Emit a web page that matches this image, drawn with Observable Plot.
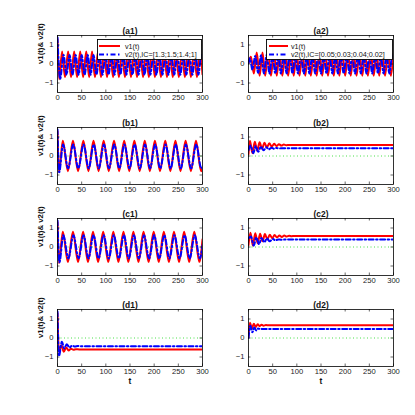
<!DOCTYPE html>
<html><head><meta charset="utf-8">
<script src="https://cdn.jsdelivr.net/npm/d3@7"></script>
<script src="https://cdn.jsdelivr.net/npm/@observablehq/plot@0.6"></script>
<style>
body{margin:0;background:#fff;}
#chart{position:relative;width:415px;height:415px;background:#fff;font-family:"Liberation Sans",Arial,sans-serif;overflow:hidden;}
#chart svg{position:absolute;}
</style></head><body><div id="chart"></div>
<script>
const xTicks=[0,50,100,150,200,250,300];
const yTicks=[-1,0,1];
const panelTitles=["(a1)","(a2)","(b1)","(b2)","(c1)","(c2)","(d1)","(d2)"];
const yLabel="v1(t)& v2(t)";
const xLabel="t";
const seriesNames=["v1(t)","v2(t)"];
const legendA1="v2(t),IC=[1.3;1.5;1.4;1]";
const legendA2="v2(t),IC=[0.05;0.03;0.04;0.02]";

const a1_v1=[[0,1.3],[3.5,-0.8],[9.5,0.66],[15.5,-0.7],[22,0.66],[28,-0.7],[34.5,0.66],[40.5,-0.7],[47,0.66],[53,-0.7],[59.5,0.66],[65.5,-0.7],[71.5,0.66],[77.5,-0.7],[84,0.66],[90,-0.7],[96.5,0.66],[102.5,-0.7],[109,0.66],[115,-0.7],[121,0.66],[127,-0.7],[133.5,0.66],[139.5,-0.7],[146,0.66],[152,-0.7],[158.5,0.66],[164.5,-0.7],[171,0.66],[177,-0.7],[183,0.66],[189,-0.7],[195.5,0.66],[201.5,-0.7],[208,0.66],[214,-0.7],[220.5,0.66],[226.5,-0.7],[232.5,0.66],[238.5,-0.7],[245,0.66],[251,-0.7],[257.5,0.66],[263.5,-0.7],[270,0.66],[276,-0.7],[282.5,0.66],[288.5,-0.7],[294.5,0.66],[300,-0.55]];
const a1_v2=[[0,1.4],[5.5,-0.78],[12.5,0.48],[18.5,-0.56],[25,0.48],[31,-0.56],[37.5,0.48],[43.5,-0.56],[50,0.48],[56,-0.56],[62.5,0.48],[68.5,-0.56],[74.5,0.48],[80.5,-0.56],[87,0.48],[93,-0.56],[99.5,0.48],[105.5,-0.56],[112,0.48],[118,-0.56],[124,0.48],[130,-0.56],[136.5,0.48],[142.5,-0.56],[149,0.48],[155,-0.56],[161.5,0.48],[167.5,-0.56],[174,0.48],[180,-0.56],[186,0.48],[192,-0.56],[198.5,0.48],[204.5,-0.56],[211,0.48],[217,-0.56],[223.5,0.48],[229.5,-0.56],[235.5,0.48],[241.5,-0.56],[248,0.48],[254,-0.56],[260.5,0.48],[266.5,-0.56],[273,0.48],[279,-0.56],[285.5,0.48],[291.5,-0.56],[297.5,0.48],[300,0.3]];

const a2_v1=[[0,0.05],[5,0.38],[11,-0.5],[17,0.6],[23,-0.62],[29,0.6],[34.5,-0.62],[40.5,0.6],[46.5,-0.62],[52.5,0.6],[58.5,-0.62],[64,0.6],[70,-0.62],[76,0.6],[82,-0.62],[88,0.6],[93.5,-0.62],[99.5,0.6],[105.5,-0.62],[111.5,0.6],[117.5,-0.62],[123,0.6],[129,-0.62],[135,0.6],[141,-0.62],[147,0.6],[152.5,-0.62],[158.5,0.6],[164.5,-0.62],[170.5,0.6],[176.5,-0.62],[182,0.6],[188,-0.62],[194,0.6],[200,-0.62],[206,0.6],[211.5,-0.62],[217.5,0.6],[223.5,-0.62],[229.5,0.6],[235.5,-0.62],[241,0.6],[247,-0.62],[253,0.6],[259,-0.62],[265,0.6],[270.5,-0.62],[276.5,0.6],[282.5,-0.62],[288.5,0.6],[294.5,-0.62],[300,0.55]];
const a2_v2=[[0,0.04],[3,0.3],[8,-0.3],[14,0.42],[20,-0.48],[26,0.46],[32,-0.5],[37.5,0.46],[43.5,-0.5],[49.5,0.46],[55.5,-0.5],[61.5,0.46],[67,-0.5],[73,0.46],[79,-0.5],[85,0.46],[91,-0.5],[96.5,0.46],[102.5,-0.5],[108.5,0.46],[114.5,-0.5],[120.5,0.46],[126,-0.5],[132,0.46],[138,-0.5],[144,0.46],[150,-0.5],[155.5,0.46],[161.5,-0.5],[167.5,0.46],[173.5,-0.5],[179.5,0.46],[185,-0.5],[191,0.46],[197,-0.5],[203,0.46],[209,-0.5],[214.5,0.46],[220.5,-0.5],[226.5,0.46],[232.5,-0.5],[238.5,0.46],[244,-0.5],[250,0.46],[256,-0.5],[262,0.46],[268,-0.5],[273.5,0.46],[279.5,-0.5],[285.5,0.46],[291.5,-0.5],[297.5,0.46],[300,0.35]];

const b1_v1=[[0,1.3],[3,-0.85],[11,0.8],[21.5,-0.8],[32,0.8],[42.5,-0.8],[53.5,0.8],[64,-0.8],[74.5,0.8],[85,-0.8],[95.5,0.8],[106,-0.8],[117,0.8],[127.5,-0.8],[138,0.8],[148.5,-0.8],[159,0.8],[170,-0.8],[180.5,0.8],[191,-0.8],[201.5,0.8],[212,-0.8],[223,0.8],[233.5,-0.8],[244,0.8],[254.5,-0.8],[265,0.8],[276,-0.8],[286.5,0.8],[297,-0.8],[300,-0.7]];
const b1_v2=[[0,1.4],[3.5,-0.85],[11.5,0.6],[22,-0.65],[32.5,0.6],[43,-0.65],[54,0.6],[64.5,-0.65],[75,0.6],[85.5,-0.65],[96,0.6],[106.5,-0.65],[117.5,0.6],[128,-0.65],[138.5,0.6],[149,-0.65],[159.5,0.6],[170.5,-0.65],[181,0.6],[191.5,-0.65],[202,0.6],[212.5,-0.65],[223.5,0.6],[234,-0.65],[244.5,0.6],[255,-0.65],[265.5,0.6],[276.5,-0.65],[287,0.6],[297.5,-0.65],[300,-0.6]];

const b2_v1=[[0,0.1],[3,0.8],[8,0.15],[13,0.75],[18,0.28],[23,0.72],[28,0.38],[33,0.7],[38,0.45],[43,0.67],[48,0.5],[53,0.64],[58,0.53],[63,0.62],[68,0.55],[73,0.6],[78,0.57],[85,0.58],[300,0.58]];
const b2_v2=[[0,0.3],[4,0.55],[10,0.15],[15,0.52],[20,0.22],[26,0.5],[31,0.3],[37,0.46],[42,0.35],[48,0.44],[53,0.38],[58,0.42],[64,0.4],[70,0.41],[300,0.41]];

const c1_v1=[[0,1.3],[3,-0.85],[11,0.8],[21.5,-0.78],[32,0.8],[42.5,-0.78],[53,0.8],[63,-0.78],[73.5,0.8],[84,-0.78],[94.5,0.8],[105,-0.78],[115.5,0.8],[126,-0.78],[136.5,0.8],[146.5,-0.78],[157,0.8],[167.5,-0.78],[178,0.8],[188.5,-0.78],[199,0.8],[209.5,-0.78],[220,0.8],[230.5,-0.78],[241,0.8],[251.5,-0.78],[262,0.8],[272.5,-0.78],[283,0.8],[293.5,-0.78],[300,0.4]];
const c1_v2=[[0,1.4],[4,-0.8],[12,0.62],[22.5,-0.6],[33,0.62],[43.5,-0.6],[54,0.62],[64,-0.6],[74.5,0.62],[85,-0.6],[95.5,0.62],[106,-0.6],[116.5,0.62],[127,-0.6],[137.5,0.62],[147.5,-0.6],[158,0.62],[168.5,-0.6],[179,0.62],[189.5,-0.6],[200,0.62],[210.5,-0.6],[221,0.62],[231.5,-0.6],[242,0.62],[252.5,-0.6],[263,0.62],[273.5,-0.6],[284,0.62],[294.5,-0.6],[300,0.1]];

const c2_v1=[[0,0.1],[4,0.75],[9,0.08],[14,0.72],[19,0.2],[24,0.7],[29,0.3],[34,0.68],[39,0.4],[44,0.65],[49,0.46],[54,0.63],[59,0.5],[64,0.61],[69,0.53],[74,0.6],[79,0.55],[84,0.59],[89,0.57],[95,0.58],[300,0.58]];
const c2_v2=[[0,0.45],[5,0.55],[11,0.07],[16,0.5],[22,0.15],[27,0.48],[33,0.25],[38,0.45],[44,0.3],[50,0.42],[56,0.35],[62,0.4],[68,0.38],[75,0.39],[300,0.39]];

const d1_v1=[[0,1.3],[3,-0.75],[8,-0.38],[13,-0.72],[18,-0.5],[23,-0.66],[28,-0.56],[33,-0.62],[38,-0.59],[45,-0.6],[300,-0.6]];
const d1_v2=[[0,1.4],[3,-0.95],[9,-0.2],[14,-0.55],[19,-0.33],[25,-0.5],[30,-0.4],[36,-0.45],[42,-0.42],[50,-0.43],[300,-0.43]];

const d2_v1=[[0,0.05],[3,0.8],[7,0.5],[11,0.75],[15,0.58],[19,0.72],[23,0.62],[27,0.7],[31,0.65],[36,0.68],[42,0.67],[300,0.67]];
const d2_v2=[[0,0.0],[4,0.65],[8,0.3],[12,0.55],[16,0.4],[20,0.5],[25,0.46],[30,0.48],[300,0.48]];

const panelData=[[a1_v1,a1_v2],[a2_v1,a2_v2],[b1_v1,b1_v2],[b2_v1,b2_v2],[c1_v1,c1_v2],[c2_v1,c2_v2],[d1_v1,d1_v2],[d2_v1,d2_v2]];

const FONT='"Liberation Sans",Arial,Helvetica,sans-serif';
const colX=[57,248], rowY=[35,127,218,309], fw=145, fh=57;
const ml=45, mr=10, mt=22, mb=30;
const DASHDOT="5,2.5,1.5,2.5";
const chart=document.getElementById("chart");

panelData.forEach(([v1,v2],i)=>{
  const col=i%2, row=Math.floor(i/2);
  const marks=[
    Plot.ruleY([0],{stroke:"#33dd33",strokeDasharray:"1,2.5",strokeWidth:0.9}),
    Plot.line(v1,{x:d=>d[0],y:d=>d[1],stroke:"#ff0000",strokeWidth:2,curve:"monotone-x",clip:true}),
    Plot.line(v2,{x:d=>d[0],y:d=>d[1],stroke:"#0000ff",strokeWidth:2,strokeDasharray:DASHDOT,curve:"monotone-x",clip:true}),
    Plot.frame({stroke:"black",strokeWidth:0.8}),
    Plot.tickX(xTicks,{x:d=>d,insetTop:fh-2.5,stroke:"black",strokeWidth:0.6}),
    Plot.tickX(xTicks,{x:d=>d,insetBottom:fh-2.5,stroke:"black",strokeWidth:0.6}),
    Plot.tickY(yTicks,{y:d=>d,insetRight:fw-2.5,stroke:"black",strokeWidth:0.6}),
    Plot.tickY(yTicks,{y:d=>d,insetLeft:fw-2.5,stroke:"black",strokeWidth:0.6}),
    Plot.axisX(xTicks,{tickSize:0,tickPadding:2,label:null,fontSize:7.6,fill:"#222"}),
    Plot.axisY(yTicks,{tickSize:0,tickPadding:4,label:null,fontSize:7.6,fill:"#222"}),
    Plot.text([panelTitles[i]],{frameAnchor:"top",dy:-7.5,fontWeight:"bold",fontSize:8.4,fill:"#111"})
  ];
  if(col===0) marks.push(Plot.text([yLabel],{frameAnchor:"left",dx:-17,rotate:-90,fontWeight:"bold",fontSize:7.8,fill:"#111"}));
  if(row===3) marks.push(Plot.text([xLabel],{frameAnchor:"bottom",dy:17,fontWeight:"bold",fontSize:8.4,fill:"#111"}));
  const svg=Plot.plot({
    width:fw+ml+mr,height:fh+mt+mb,marginLeft:ml,marginRight:mr,marginTop:mt,marginBottom:mb,
    style:{background:"transparent",overflow:"visible",fontFamily:FONT,fontSize:"7.6px",color:"#111"},
    x:{domain:[0,300]},y:{domain:[-1.5,1.5]},
    marks
  });
  svg.style.position="absolute";
  svg.style.left=(colX[col]-ml)+"px";
  svg.style.top=(rowY[row]-mt)+"px";
  chart.appendChild(svg);
});

function legend(x,y,w,h,label2,l0,l1,tx){
  const s=d3.select(chart).append("svg").attr("width",w).attr("height",h)
    .style("left",x+"px").style("top",y+"px").style("position","absolute");
  s.append("rect").attr("x",0.5).attr("y",0.5).attr("width",w-1).attr("height",h-1)
    .attr("fill","white").attr("stroke","black").attr("stroke-width",0.9);
  const rows=[[seriesNames[0],"#ff0000",null,7],[label2,"#0000ff",DASHDOT,15.5]];
  rows.forEach(([t,c,dash,yy])=>{
    const ln=s.append("line").attr("x1",l0).attr("x2",l1).attr("y1",yy).attr("y2",yy)
      .attr("stroke",c).attr("stroke-width",2);
    if(dash) ln.attr("stroke-dasharray",dash);
    s.append("text").attr("x",tx).attr("y",yy).attr("dy","0.35em")
      .attr("font-family",FONT).attr("font-size",7.2).attr("fill","#111").text(t);
  });
}
legend(97,39,105,21,legendA1,2,23,28);
legend(266,39,127,21,legendA2,3,22,25);
</script></body></html>
